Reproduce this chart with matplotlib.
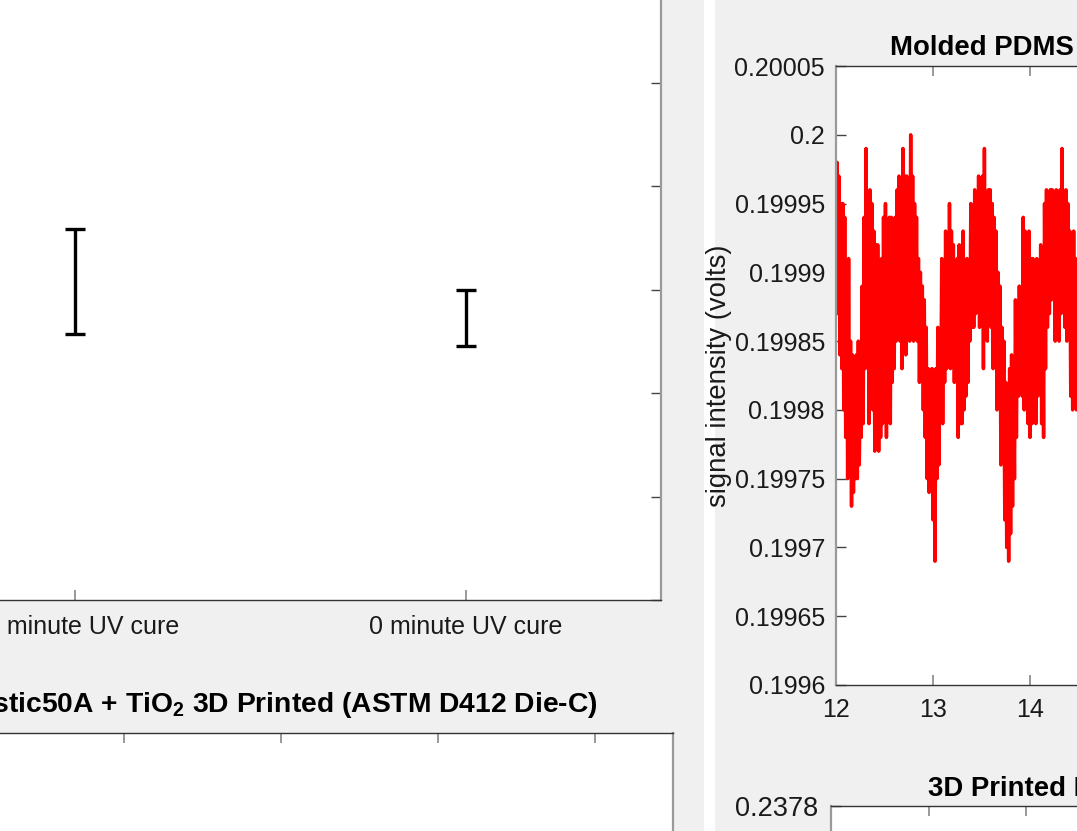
import numpy as np
import matplotlib.pyplot as plt
from matplotlib.patches import Rectangle

plt.rcParams["font.family"] = ["Liberation Sans", "DejaVu Sans"]
plt.rcParams["mathtext.fontset"] = "custom"
plt.rcParams["mathtext.rm"] = "Liberation Sans"
plt.rcParams["mathtext.bf"] = "Liberation Sans:bold"

# --- data ---
cure_labels = ["10 minute UV cure", "0 minute UV cure"]
cure_mean = [3.08, 2.73]
cure_err = [0.51, 0.27]

tensile_ticks = [1, 2, 3, 4, 5]

# Molded PDMS signal (volts), sampled every 0.01 s from t = 12 s
signal_start = 12.0
signal_step = 0.01
signal = [
    0.19988, 0.19998, 0.19987, 0.19997, 0.19984, 0.19995, 0.19983,
    0.19995, 0.19980, 0.19994, 0.19978, 0.19990, 0.19975, 0.19991, 0.19976, 0.19985,
    0.19973, 0.19984, 0.19974, 0.19983, 0.19975, 0.19984, 0.19975, 0.19985, 0.19976, 0.19982,
    0.19978, 0.19989, 0.19979, 0.19994, 0.19983, 0.19999, 0.19985, 0.19993,
    0.19979, 0.19996, 0.19981, 0.19995, 0.19980, 0.19993, 0.19977, 0.19992, 0.19979,
    0.19992, 0.19977, 0.19990, 0.19978, 0.19991, 0.19979, 0.19994, 0.19981, 0.19995,
    0.19978, 0.19992, 0.19980, 0.19994, 0.19979, 0.19994, 0.19982, 0.19993, 0.19983, 0.19994,
    0.19985, 0.19996, 0.19986, 0.19997, 0.19985, 0.19996, 0.19983, 0.19999, 0.19985, 0.19997,
    0.19984, 0.19997, 0.19986, 0.19996, 0.19985, 0.20000, 0.19987, 0.19997,
    0.19985, 0.19995, 0.19986, 0.19994, 0.19985, 0.19991, 0.19982, 0.19990, 0.19983, 0.19989,
    0.19980, 0.19988, 0.19978, 0.19986, 0.19975, 0.19983, 0.19974, 0.19982, 0.19976,
    0.19983, 0.19972, 0.19981, 0.19969, 0.19983, 0.19975, 0.19986, 0.19976, 0.19984,
    0.19980, 0.19991, 0.19979, 0.19989, 0.19982, 0.19993, 0.19983, 0.19992, 0.19984,
    0.19995, 0.19983, 0.19993, 0.19985, 0.19992, 0.19982, 0.19990, 0.19983, 0.19991,
    0.19978, 0.19992, 0.19979, 0.19990, 0.19979, 0.19993, 0.19980, 0.19989,
    0.19981, 0.19991, 0.19982, 0.19990, 0.19985, 0.19995, 0.19986, 0.19994,
    0.19986, 0.19996, 0.19987, 0.19995, 0.19988, 0.19997, 0.19986, 0.19996, 0.19987, 0.19997,
    0.19983, 0.19999, 0.19986, 0.19995, 0.19985, 0.19996, 0.19987, 0.19996, 0.19986,
    0.19995, 0.19983, 0.19994, 0.19984, 0.19993, 0.19980, 0.19990, 0.19981, 0.19989,
    0.19976, 0.19986, 0.19977, 0.19985, 0.19972, 0.19982, 0.19970, 0.19981,
    0.19969, 0.19983, 0.19971, 0.19984, 0.19973, 0.19983, 0.19975, 0.19988, 0.19978, 0.19987,
    0.19981, 0.19989, 0.19982, 0.19988, 0.19981, 0.19994, 0.19980, 0.19993, 0.19981,
    0.19992, 0.19979, 0.19993, 0.19978, 0.19991, 0.19979, 0.19991, 0.19980, 0.19990, 0.19979,
    0.19991, 0.19981, 0.19990, 0.19982, 0.19992, 0.19979, 0.19989, 0.19978, 0.19995, 0.19983,
    0.19996, 0.19986, 0.19995, 0.19987, 0.19996, 0.19988, 0.19996, 0.19989, 0.19995,
    0.19985, 0.19996, 0.19986, 0.19995, 0.19985, 0.19996, 0.19987, 0.19999, 0.19988, 0.19995,
    0.19986, 0.19996, 0.19985, 0.19995, 0.19986, 0.19993, 0.19981, 0.19992, 0.19980, 0.19993,
    0.19982, 0.19991, 0.19980, 0.19990, 0.19979, 0.19989, 0.19980,
]
time = signal_start + signal_step * np.arange(len(signal))

W, H = 1077, 831
fig = plt.figure(figsize=(W / 100, H / 100), dpi=100, facecolor="#f0f0f0")

# white divider strip between the two panels
fig.patches.append(Rectangle((704 / W, 0), 11 / W, 1, transform=fig.transFigure,
                             facecolor="white", edgecolor="none", zorder=-1))


def px_axes(left, top, right, bottom):
    return fig.add_axes([left / W, 1 - bottom / H, (right - left) / W, (bottom - top) / H])


def style(ax, xpad=10.5, ypad=8, size=18):
    ax.set_facecolor("white")
    for side in ["top", "bottom"]:
        ax.spines[side].set_color("#333333")
        ax.spines[side].set_linewidth(1.0)
    for side in ["left", "right"]:
        ax.spines[side].set_color("#9a9a9a")
        ax.spines[side].set_linewidth(1.6)
    ax.tick_params(direction="in", top=True, right=True, length=7, labelsize=size,
                   labelcolor="#1a1a1a")
    ax.tick_params(axis="x", color="#888888", width=1.2, pad=xpad)
    ax.tick_params(axis="y", color="#444444", width=1.0, pad=ypad)


# top-left: error bars by cure time
ax1 = px_axes(-120, -30, 661, 600)
style(ax1)
ax1.errorbar([1, 2], cure_mean, yerr=cure_err, fmt="none", ecolor="black",
             elinewidth=2.4, capsize=7, capthick=2.4)
ax1.set_xlim(0.5, 2.5)
ax1.set_ylim(0, 630 / 103.4)
ax1.set_xticks([1, 2])
ax1.set_xticklabels(cure_labels)
ax1.set_yticks(range(0, 7))

# bottom-left: tensile test panel (only its top shows)
ax2 = px_axes(-111, 733, 673, 1150)
style(ax2)
ax2.set_xlim(0.5, 5.5)
ax2.set_xticks(tensile_ticks)
ax2.set_ylim(0, 1)
ax2.set_yticks([0, 0.2, 0.4])
ax2.set_title(r"Elastic50A + TiO$_\mathbf{2}$ 3D Printed (ASTM D412 Die-C)",
              fontsize=20.3, fontweight="bold", pad=15, x=0.491)

# top-right: molded PDMS signal
ax3 = px_axes(836, 66, 1127, 685)
style(ax3, xpad=9.5)
ax3.plot(time, signal, color="red", linewidth=2.5)
ax3.set_xlim(12, 15)
ax3.set_ylim(0.1996, 0.20005)
ax3.set_xticks([12, 13, 14, 15])
ax3.set_yticks(np.arange(0.1996, 0.200051, 0.00005))
ax3.set_yticklabels(["0.1996", "0.19965", "0.1997", "0.19975", "0.1998",
                     "0.19985", "0.1999", "0.19995", "0.2", "0.20005"])
ax3.set_title("Molded PDMS", fontsize=19.8, fontweight="bold", pad=8)
ax3.set_ylabel("signal intensity (volts)", fontsize=19.8, color="#1a1a1a")
ax3.yaxis.set_label_coords((732 - 836) / 291, 0.5)

# bottom-right: 3D printed signal panel (only its top shows)
ax4 = px_axes(831, 806, 1251, 1231)
style(ax4, ypad=9, size=19.5)
ax4.set_xlim(12, 16.3)
ax4.set_xticks([12, 13, 14, 15, 16])
ax4.set_ylim(0.2372, 0.2378)
ax4.set_yticks([0.2374, 0.2376, 0.2378])
ax4.set_yticklabels(["0.2374", "0.2376", "0.2378"])
ax4.set_title("3D Printed PDMS", fontsize=19.8, fontweight="bold", pad=7)

fig.savefig("out.png", dpi=100, facecolor=fig.get_facecolor())
plt.close(fig)
